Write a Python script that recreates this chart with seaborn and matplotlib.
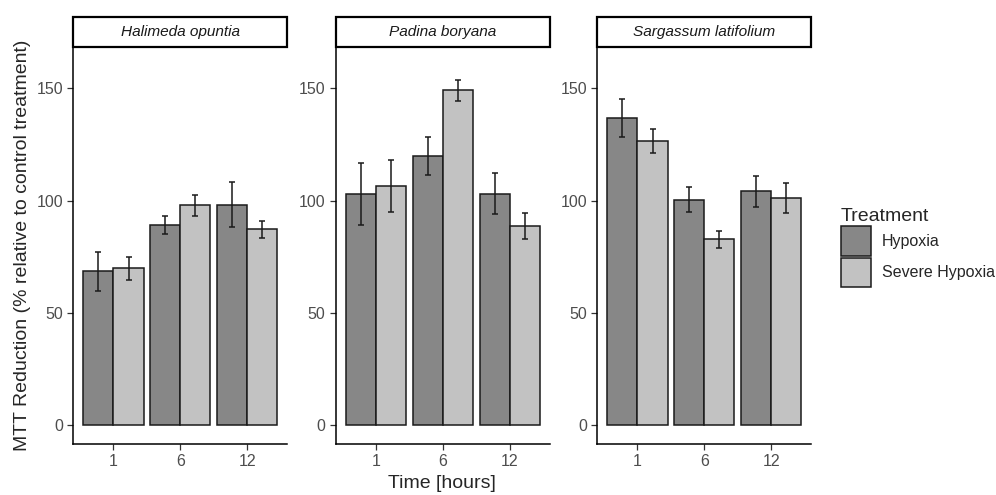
import pandas as pd
import seaborn as sns
import matplotlib.pyplot as plt
from matplotlib.patches import Patch, Rectangle

# values
times = ['1', '6', '12']
species = ['Halimeda opuntia', 'Padina boryana', 'Sargassum latifolium']
treatments = ['Hypoxia', 'Severe Hypoxia']

halimeda_hyp = [68.5, 89.1, 98.2]
halimeda_hyp_se = [8.8, 3.8, 10.2]
halimeda_sev = [69.8, 97.8, 87.1]
halimeda_sev_se = [5.0, 4.6, 3.9]

padina_hyp = [102.8, 119.8, 103.1]
padina_hyp_se = [13.9, 8.6, 9.0]
padina_sev = [106.5, 149.0, 88.6]
padina_sev_se = [11.4, 4.7, 5.9]

sargassum_hyp = [136.7, 100.4, 104.2]
sargassum_hyp_se = [8.4, 5.4, 6.9]
sargassum_sev = [126.5, 82.7, 101.2]
sargassum_sev_se = [5.5, 3.8, 6.8]

means = {
    'Halimeda opuntia': (halimeda_hyp, halimeda_sev),
    'Padina boryana': (padina_hyp, padina_sev),
    'Sargassum latifolium': (sargassum_hyp, sargassum_sev),
}
errs = {
    'Halimeda opuntia': (halimeda_hyp_se, halimeda_sev_se),
    'Padina boryana': (padina_hyp_se, padina_sev_se),
    'Sargassum latifolium': (sargassum_hyp_se, sargassum_sev_se),
}

rows = []
for sp in species:
    for ti, tr in enumerate(treatments):
        for j, t in enumerate(times):
            rows.append({'Species': sp, 'Treatment': tr, 'Time': t,
                         'MTT': means[sp][ti][j], 'SE': errs[sp][ti][j]})
df = pd.DataFrame(rows)

palette = {'Hypoxia': '#878787', 'Severe Hypoxia': '#C2C2C2'}

sns.set_style('ticks')
plt.rcParams['font.family'] = ['Arial', 'Liberation Sans', 'DejaVu Sans']

fig = plt.figure(figsize=(9.96, 4.95), dpi=100)
lefts = [0.0736, 0.337, 0.5997]
w = 0.2150
bottom, height = 0.103, 0.8014

for i, sp in enumerate(species):
    ax = fig.add_axes([lefts[i], bottom, w, height])
    sub = df[df['Species'] == sp]
    sns.barplot(data=sub, x='Time', y='MTT', hue='Treatment', order=times,
                hue_order=treatments, palette=palette, width=0.9, gap=0,
                errorbar=None, edgecolor='#1a1a1a', linewidth=1.1, ax=ax,
                legend=False)
    for cont, tr in zip(ax.containers, treatments):
        s = sub[sub['Treatment'] == tr].set_index('Time').loc[times]
        xs = [b.get_x() + b.get_width() / 2 for b in cont]
        ax.errorbar(xs, s['MTT'].values, yerr=s['SE'].values, fmt='none',
                    ecolor='#1a1a1a', elinewidth=1.1, capsize=2.2, capthick=1.1)
    ax.set_xlim(-0.6, 2.6)
    ax.set_ylim(-8.4, 168.2)
    ax.set_yticks([0, 50, 100, 150])
    ax.set_xlabel('')
    ax.set_ylabel('')
    ax.tick_params(axis='both', labelsize=11.5, labelcolor='#4d4d4d',
                   color='#333333', length=4, width=0.9, pad=3.3)
    sns.despine(ax=ax)
    for side in ['left', 'bottom']:
        ax.spines[side].set_linewidth(1.1)
        ax.spines[side].set_color('black')
    # facet strip
    ax.add_patch(Rectangle((0, 1), 1, 0.0771, transform=ax.transAxes,
                           clip_on=False, facecolor='white',
                           edgecolor='black', linewidth=1.6))
    ax.text(0.5, 1.0385, sp, transform=ax.transAxes, ha='center',
            va='center', fontsize=11.1, style='italic', color='#1a1a1a')

fig.text(0.023, 0.504, 'MTT Reduction (% relative to control treatment)',
         rotation=90, ha='center', va='center', fontsize=14)
fig.text(0.4433, 0.024, 'Time [hours]', ha='center', va='center', fontsize=14)

handles = [Patch(facecolor=palette[t], edgecolor='#1a1a1a', linewidth=1.1)
           for t in treatments]
leg = fig.legend(handles, treatments, title='Treatment', loc='center left',
                 bbox_to_anchor=(0.8444, 0.5), frameon=False, fontsize=11.5,
                 title_fontsize=14, handlelength=1.85, handleheight=2.5,
                 handletextpad=0.7, labelspacing=0.1, alignment='left',
                 borderpad=0, borderaxespad=0)

fig.savefig('out.png', dpi=100)
